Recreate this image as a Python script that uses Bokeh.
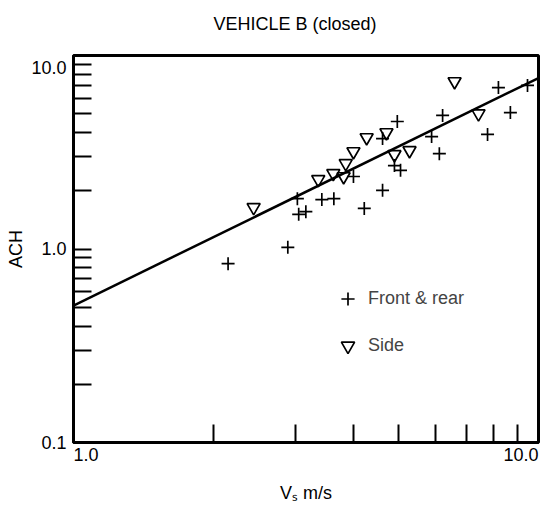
from bokeh.plotting import figure
from bokeh.models import Range1d, FixedTicker, Legend, LegendItem, LogAxis, Title
from bokeh.embed import file_html
from bokeh.resources import INLINE

# ---- data ----
front_x = [2.15, 2.89, 3.03, 3.05, 3.16, 3.42, 3.63, 4.00, 4.22, 4.62, 4.90,
           5.05, 4.62, 4.97, 5.89, 6.22, 6.12, 7.77, 8.20, 8.70, 9.47]
front_y = [0.84, 1.02, 1.82, 1.51, 1.56, 1.80, 1.82, 2.37, 1.62, 2.01, 2.70,
           2.55, 3.72, 4.56, 3.81, 4.90, 3.11, 3.91, 6.83, 5.07, 7.00]

side_x = [2.44, 3.36, 3.62, 3.81, 3.85, 4.00, 4.27, 4.71, 4.90, 5.28, 6.60, 7.43]
side_y = [1.64, 2.29, 2.46, 2.37, 2.77, 3.19, 3.77, 4.00, 3.08, 3.23, 7.34, 5.01]

fit_x = [1.0, 10.0]
fit_y = [0.51, 7.65]

x_tick_vals = [1.0, 10.0]
x_tick_labels = ["1.0", "10.0"]
x_minor = [2, 3, 4, 5, 6, 7, 8, 9]
y_tick_vals = [0.1, 1.0, 10.0]
y_tick_labels = ["0.1", "1.0", "\n10.0"]   # top label sits just under its tick
y_minor = [0.2, 0.3, 0.4, 0.5, 0.6, 0.7, 0.8, 0.9, 2, 3, 4, 5, 6, 7, 8, 9]

title_text = "VEHICLE B (closed)\n"   # trailing empty line lifts the title
x_title = "V\u209b m/s"
y_title = "ACH"
legend_labels = ["Front & rear", "Side"]

FONT = "Liberation Sans"
FS = "18px"

p = figure(width=542, height=508, x_axis_type="log", y_axis_type="log",
           x_range=Range1d(1.0, 10.0), y_range=Range1d(0.1, 10.0),
           output_backend="svg", toolbar_location=None, title=None,
           min_border_left=73, min_border_right=4, min_border_top=55,
           min_border_bottom=66)

p.background_fill_color = "white"
p.border_fill_color = "white"
p.grid.visible = False
p.outline_line_color = "black"
p.outline_line_width = 3
p.outline_line_alpha = 1.0


def style_axis(ax):
    ax.axis_line_width = 3
    ax.axis_line_color = "black"
    ax.major_tick_in = 18
    ax.major_tick_out = 0
    ax.minor_tick_in = 18
    ax.minor_tick_out = 0
    ax.major_tick_line_width = 2
    ax.minor_tick_line_width = 2
    ax.major_tick_line_color = "black"
    ax.minor_tick_line_color = "black"
    ax.major_label_text_font = FONT
    ax.major_label_text_font_size = FS
    ax.major_label_text_color = "black"
    ax.axis_label_text_font = FONT
    ax.axis_label_text_font_size = FS
    ax.axis_label_text_font_style = "normal"
    ax.axis_label_text_color = "black"


# x axis 1: ticks, and the left-anchored "1.0"
xa = p.xaxis[0]
style_axis(xa)
xa.ticker = FixedTicker(ticks=[x_tick_vals[0]], minor_ticks=x_minor)
xa.major_label_overrides = {x_tick_vals[0]: x_tick_labels[0]}
xa.major_label_standoff = 12
xa.major_label_orientation = -1e-6   # anchor label at its left end

# x axis 2: only the right-anchored "10.0" label plus the axis title
xb = LogAxis(ticker=FixedTicker(ticks=[x_tick_vals[1]], minor_ticks=[]))
style_axis(xb)
xb.axis_line_color = None
xb.major_tick_line_color = None
xb.minor_tick_line_color = None
xb.major_label_overrides = {x_tick_vals[1]: x_tick_labels[1]}
xb.major_label_orientation = 1e-6    # anchor label at its right end
xb.major_label_standoff = -16
xb.axis_label = x_title
xb.axis_label_standoff = 12
p.add_layout(xb, "below")

# y axis
ya = p.yaxis[0]
style_axis(ya)
ya.ticker = FixedTicker(ticks=y_tick_vals, minor_ticks=y_minor)
ya.major_label_overrides = dict(zip(y_tick_vals, y_tick_labels))
ya.major_label_standoff = 7
ya.axis_label = y_title
ya.axis_label_standoff = 2

title = Title(text=title_text, align="left", offset=140, text_font=FONT,
              text_font_size=FS, text_font_style="normal",
              vertical_align="bottom", standoff=4, text_color="black")
p.add_layout(title, "above")

# fit line and points
p.line(fit_x, fit_y, line_width=2.5, line_color="black")
fr = p.scatter(front_x, front_y, marker="cross", size=13,
               line_color="black", line_width=1.7)
sd = p.scatter(side_x, side_y, marker="inverted_triangle", size=13,
               fill_color=None, line_color="black", line_width=1.7)

legend = Legend(items=[LegendItem(label=legend_labels[0], renderers=[fr]),
                       LegendItem(label=legend_labels[1], renderers=[sd])],
                location=(258, 80), border_line_color=None,
                background_fill_alpha=0, padding=0, margin=0, spacing=14,
                label_standoff=4, glyph_width=33, glyph_height=33,
                label_height=20, label_text_font=FONT,
                label_text_font_size=FS)
p.add_layout(legend)

open("out.html", "w").write(file_html(p, INLINE))
